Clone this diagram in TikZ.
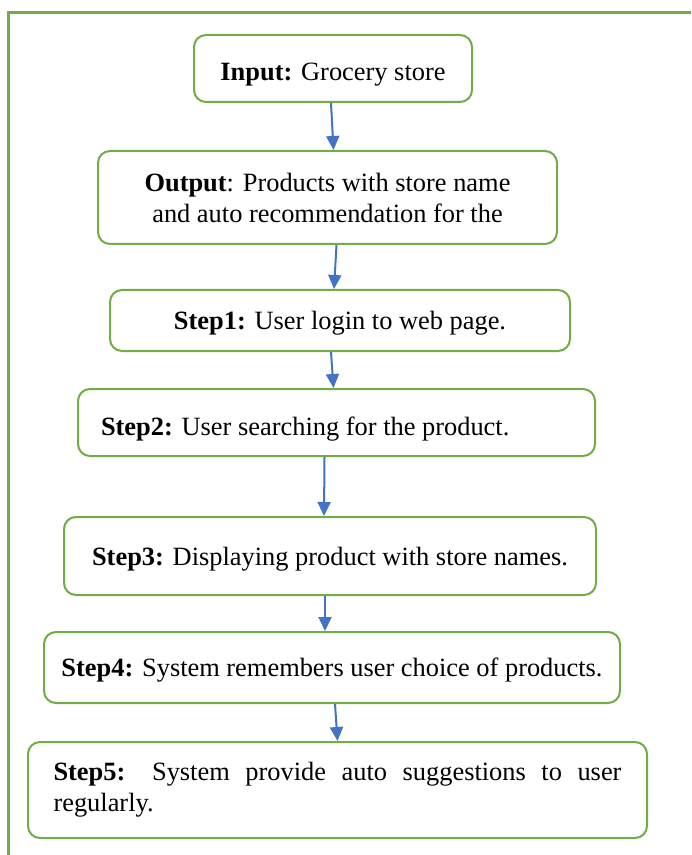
\documentclass[tikz,border=0pt]{standalone}
\usepackage{xcolor}
\usepackage{fontspec}
\setmainfont{Liberation Serif}
\usepackage{tikz}
\usetikzlibrary{arrows.meta,positioning,calc}
\definecolor{boxgreen}{RGB}{112,173,71}
\definecolor{arrowblue}{RGB}{68,114,196}

\begin{document}
\begin{tikzpicture}[
    x=0.5pt, y=-0.5pt,
    stepbox/.style={rectangle, draw=boxgreen, line width=1pt, rounded corners=6pt, fill=white, align=center, inner sep=4pt, font=\fontsize{13.2}{15.5}\selectfont},
    lowtext/.style={text depth=0pt},
    frame/.style={draw=boxgreen, line width=1.5pt},
    arrow/.style={-{Triangle[length=7pt,width=6.5pt]}, draw=arrowblue, line width=1pt}
]
    \useasboundingbox (0,0) rectangle (691,855);
    \draw[frame] (8,855) -- (8,13) -- (691,13);

    \node[stepbox, lowtext, text height=12pt, minimum width=139pt, minimum height=33.5pt] (input) at (333,68.5) {\textbf{Input:} Grocery store};
    \node[stepbox, minimum width=229.5pt, minimum height=46.5pt] (output) at (327.5,197.5) {\textbf{Output}: Products with store name\\and auto recommendation for the};
    \node[stepbox, lowtext, minimum width=230pt, minimum height=30.5pt] (step1) at (340,320.5) {\textbf{Step1:} User login to web page.};
    \node[stepbox, lowtext, text height=13pt, text width=235.5pt, align=flush left, inner xsep=11.5pt, minimum height=33.5pt] (step2) at (336.5,422.5) {\textbf{Step2:} User searching for the product.};
    \node[stepbox, lowtext, minimum width=266pt, minimum height=39pt] (step3) at (330,556) {\textbf{Step3:} Displaying product with store names.};
    \node[stepbox, lowtext, minimum width=288pt, minimum height=35.5pt] (step4) at (332,667.5) {\textbf{Step4:} System remembers user choice of products.};
    \node[stepbox, text width=284pt, align=justify, inner xsep=12.75pt, minimum height=48pt] (step5) at (337.5,790)
        {\hyphenpenalty=10000\tolerance=10000\textbf{Step5:} System provide auto suggestions to user \mbox{regularly.}\par};

    \draw[arrow] ([xshift=-1pt]input.south) -- ([xshift=3pt]output.north);
    \draw[arrow] ([xshift=4.5pt]output.south) -- ([xshift=-3pt]step1.north);
    \draw[arrow] ([xshift=-4.5pt]step1.south) -- ([xshift=-1.5pt]step2.north);
    \draw[arrow] ([xshift=-6pt]step2.south) -- ([xshift=-3pt]step3.north);
    \draw[arrow] ([xshift=-2.5pt]step3.south) -- ([xshift=-3.5pt]step4.north);
    \draw[arrow] ([xshift=1.5pt]step4.south) -- ([xshift=0pt]step5.north);
\end{tikzpicture}
\end{document}
